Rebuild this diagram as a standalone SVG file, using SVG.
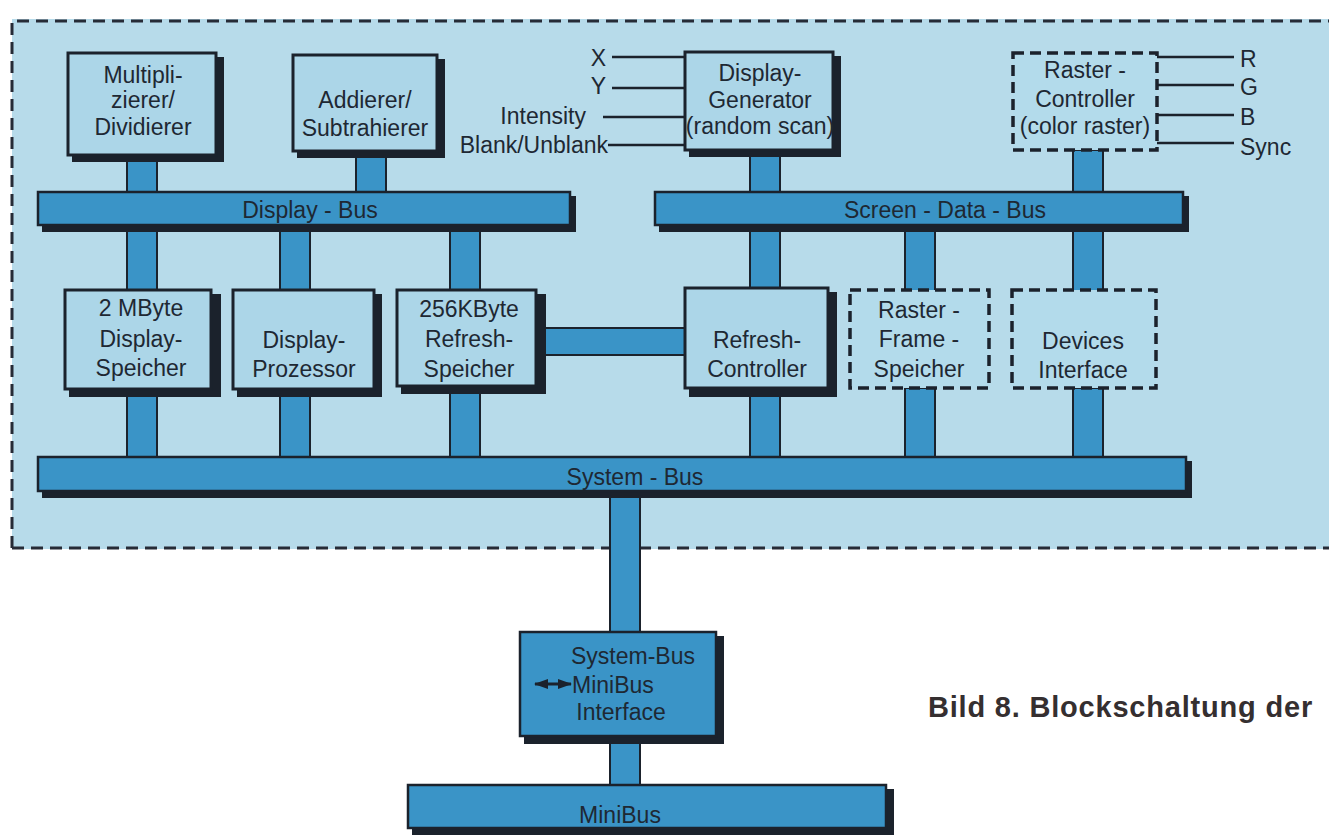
<svg xmlns="http://www.w3.org/2000/svg" width="1329" height="838" viewBox="0 0 1329 838">
<style>
text{font-family:"Liberation Sans",Arial,sans-serif;fill:#1e2833;font-size:23px}
.c{text-anchor:middle}
.r{text-anchor:end}
.box{fill:#acd6e8;stroke:#1b222c;stroke-width:3}
.sh{fill:#1b222c}
.dbox{fill:#b3dbeb;stroke:#1b222c;stroke-width:3.5;stroke-dasharray:11 6}
.bus{fill:#3a94c7;stroke:#1b222c;stroke-width:2.5}
.conn{fill:#3a94c7;stroke:#1b222c;stroke-width:2}
.sig{stroke:#1b222c;stroke-width:2.5;fill:none}
.cap{font-family:"Liberation Sans",Arial,sans-serif;font-weight:bold;font-size:29px;letter-spacing:0.8px;fill:#352f30}
</style>
<defs>
<marker id="ah" markerWidth="14" markerHeight="10" refX="13" refY="5" orient="auto-start-reverse" markerUnits="userSpaceOnUse">
<path d="M0,0 L14,5 L0,10 Z" fill="#1b222c"/>
</marker>
</defs>
<rect width="1329" height="838" fill="#ffffff"/>
<rect x="12" y="19" width="1317" height="530" fill="#b7dbea"/>
<path d="M12,548 V21 H1329 M12,548 H1329" fill="none" stroke="#262b36" stroke-width="3" stroke-dasharray="12 7"/>

<g id="connectors">
<rect class="conn" x="127" y="155" width="30" height="45"/>
<rect class="conn" x="356" y="152" width="30" height="48"/>
<rect class="conn" x="750" y="152" width="30" height="48"/>
<rect class="conn" x="1073" y="150" width="30" height="50"/>
<rect class="conn" x="127" y="225" width="30" height="70"/>
<rect class="conn" x="280" y="225" width="30" height="70"/>
<rect class="conn" x="450" y="225" width="30" height="70"/>
<rect class="conn" x="750" y="225" width="30" height="70"/>
<rect class="conn" x="905" y="225" width="30" height="70"/>
<rect class="conn" x="1073" y="225" width="30" height="70"/>
<rect class="conn" x="127" y="390" width="30" height="75"/>
<rect class="conn" x="280" y="390" width="30" height="75"/>
<rect class="conn" x="450" y="390" width="30" height="75"/>
<rect class="conn" x="750" y="390" width="30" height="75"/>
<rect class="conn" x="905" y="388" width="30" height="77"/>
<rect class="conn" x="1073" y="388" width="30" height="77"/>
<rect class="conn" x="540" y="328" width="150" height="27"/>
<rect class="conn" x="610" y="492" width="30" height="145"/>
<rect class="conn" x="610" y="735" width="30" height="55"/>
<path class="sig" d="M612,57 H686 M612,88 H686 M603,117 H686 M608,145 H686"/>
<path class="sig" d="M1157,57 H1234 M1157,85 H1234 M1157,115 H1234 M1157,143 H1234"/>
</g>

<g id="display-bus">
<rect class="sh" x="42" y="196" width="534" height="36"/>
<rect class="bus" x="38" y="192" width="532" height="33"/>
<text class="c" x="310" y="218">Display - Bus</text>
</g>
<g id="screen-data-bus">
<rect class="sh" x="659" y="196" width="530" height="36"/>
<rect class="bus" x="655" y="192" width="528" height="33"/>
<text class="c" x="945" y="218">Screen - Data - Bus</text>
</g>
<g id="system-bus">
<rect class="sh" x="42" y="461" width="1150" height="37"/>
<rect class="bus" x="38" y="457" width="1148" height="34"/>
<text class="c" x="635" y="485">System - Bus</text>
</g>
<g id="minibus">
<rect class="sh" x="412" y="789" width="482" height="46"/>
<rect class="bus" x="408" y="785" width="478" height="43"/>
<text class="c" x="620" y="823">MiniBus</text>
</g>

<g id="multiplizierer">
<rect class="sh" x="72" y="57" width="152" height="105"/>
<rect class="box" x="68" y="53" width="148" height="102"/>
<text class="c" x="143" y="83">Multipli-</text>
<text class="c" x="143" y="108">zierer/</text>
<text class="c" x="143" y="135">Dividierer</text>
</g>
<g id="addierer">
<rect class="sh" x="297" y="59" width="148" height="99"/>
<rect class="box" x="293" y="55" width="144" height="96"/>
<text class="c" x="365" y="108">Addierer/</text>
<text class="c" x="365" y="136">Subtrahierer</text>
</g>
<g id="display-generator">
<rect class="sh" x="689" y="56" width="152" height="101"/>
<rect class="box" x="685" y="52" width="148" height="98"/>
<text class="c" x="760" y="81">Display-</text>
<text class="c" x="760" y="108">Generator</text>
<text class="c" x="760" y="134">(random scan)</text>
<text class="r" x="606" y="66">X</text>
<text class="r" x="606" y="94">Y</text>
<text class="r" x="586" y="124">Intensity</text>
<text class="r" x="608" y="153">Blank/Unblank</text>
</g>
<g id="raster-controller">
<rect class="dbox" x="1013" y="53" width="144" height="97"/>
<text class="c" x="1085" y="78">Raster -</text>
<text class="c" x="1085" y="107">Controller</text>
<text class="c" x="1085" y="134">(color raster)</text>
<text x="1240" y="67">R</text>
<text x="1240" y="95">G</text>
<text x="1240" y="125">B</text>
<text x="1240" y="155">Sync</text>
</g>
<g id="display-speicher">
<rect class="sh" x="69" y="294" width="152" height="103"/>
<rect class="box" x="65" y="290" width="146" height="99"/>
<text class="c" x="141" y="316">2 MByte</text>
<text class="c" x="141" y="347">Display-</text>
<text class="c" x="141" y="376">Speicher</text>
</g>
<g id="display-prozessor">
<rect class="sh" x="237" y="294" width="145" height="103"/>
<rect class="box" x="233" y="290" width="141" height="99"/>
<text class="c" x="304" y="348">Display-</text>
<text class="c" x="304" y="377">Prozessor</text>
</g>
<g id="refresh-speicher">
<rect class="sh" x="401" y="294" width="145" height="100"/>
<rect class="box" x="397" y="290" width="139" height="96"/>
<text class="c" x="469" y="317">256KByte</text>
<text class="c" x="469" y="347">Refresh-</text>
<text class="c" x="469" y="377">Speicher</text>
</g>
<g id="refresh-controller">
<rect class="sh" x="689" y="292" width="148" height="105"/>
<rect class="box" x="685" y="288" width="143" height="100"/>
<text class="c" x="757" y="348">Refresh-</text>
<text class="c" x="757" y="377">Controller</text>
</g>
<g id="raster-frame-speicher">
<rect class="dbox" x="850" y="290" width="139" height="98"/>
<text class="c" x="919" y="318">Raster -</text>
<text class="c" x="919" y="347">Frame -</text>
<text class="c" x="919" y="377">Speicher</text>
</g>
<g id="devices-interface">
<rect class="dbox" x="1012" y="290" width="144" height="98"/>
<text class="c" x="1083" y="349">Devices</text>
<text class="c" x="1083" y="378">Interface</text>
</g>
<g id="minibus-interface">
<rect class="sh" x="524" y="636" width="200" height="108"/>
<rect class="bus" x="520" y="632" width="196" height="104"/>
<text class="c" x="633" y="664">System-Bus</text>
<line x1="535" y1="684" x2="571" y2="684" stroke="#1b222c" stroke-width="3" marker-start="url(#ah)" marker-end="url(#ah)"/>
<text x="572" y="693">MiniBus</text>
<text class="c" x="621" y="720">Interface</text>
</g>
<text class="cap" x="928" y="717">Bild 8. Blockschaltung der</text>
</svg>
